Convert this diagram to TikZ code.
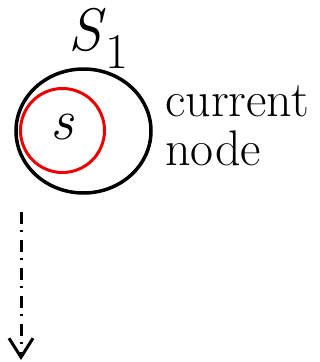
\documentclass[tikz,border=0pt]{standalone}
\usetikzlibrary{arrows.meta,positioning,calc,shapes.geometric}
\definecolor{myRed}{RGB}{235,0,0}
\tikzset{
	setbox/.style={
		draw=black,
		ellipse,
		line width=3.5pt,
		inner sep=0pt
	},
	subbox/.style={
		draw=myRed,
		circle,
		line width=3pt,
		inner sep=0pt
	},
	lbl/.style={
		inner sep=0pt,
		font=\fontsize{50}{49}\selectfont
	},
	darr/.style={-{Straight Barb[length=19pt,width=24pt,line width=3pt]}, line width=3pt, dash pattern=on 12pt off 6pt on 2pt off 8pt}
}

\begin{document}
\begin{tikzpicture}[x=1pt, y=-1pt]
		\useasboundingbox (0,0) rectangle (320,362);
		\node[setbox, minimum width=135pt, minimum height=124pt] (S1) at (83.5,131) {};
		\node[subbox, minimum size=84pt] (s) at (62.5,130.5) {};
		\node[lbl, font=\itshape\fontsize{58}{58}\selectfont, anchor=base] (slbl) at (62,139) {s};
		\node[lbl, font=\fontsize{60}{60}\selectfont, anchor=base west] (S1lbl) at (68,50) {%
			\textit{S}\raisebox{-18pt}{\fontsize{50}{50}\selectfont 1}};
		\node[lbl, align=left, anchor=base west] (cur) at (165,165) {current\\node};
		\coordinate (from) at (21,212);
		\coordinate (to) at (21,360);
		\draw[darr] (from) -- (to);
	\end{tikzpicture}
\end{document}
